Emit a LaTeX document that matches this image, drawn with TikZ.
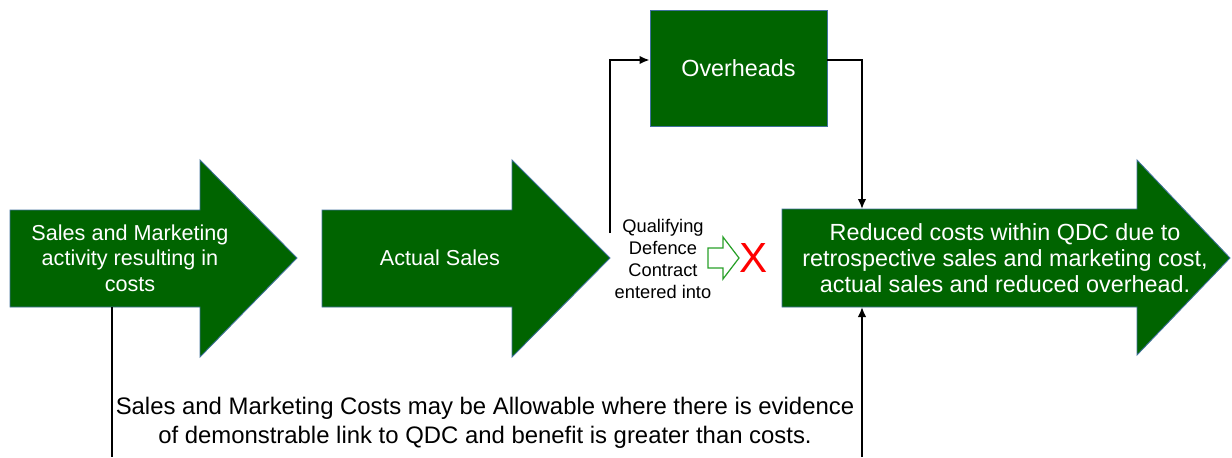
\documentclass[tikz,border=0pt]{standalone}
\usepackage{fontspec}
\setmainfont{Liberation Sans}
\usetikzlibrary{arrows.meta, positioning}
\definecolor{qdcgreen}{RGB}{0,100,0}
\definecolor{edgeblue}{RGB}{65,113,156}
\definecolor{hollowgreen}{RGB}{40,160,40}

\begin{document}
\begin{tikzpicture}[x=0.02cm, y=-0.02cm,
  bigarrow/.style={fill=qdcgreen, draw=edgeblue, line width=0.5pt},
  greentext/.style={text=white, align=center, inner sep=0pt, font=\fontsize{13.3}{14.6}\selectfont},
  smalltext/.style={greentext, font=\fontsize{12.3}{14.6}\selectfont},
  qualify/.style={align=center, inner sep=0pt, font=\fontsize{10.4}{12.4}\selectfont},
  link/.style={draw, line width=1pt, -{Latex[length=2mm,width=1.7mm]}}]
\useasboundingbox (0,0) rectangle (1232,457);
% the three green arrows
\filldraw[bigarrow] (10,210) -- (200,210) -- (200,160) -- (297,258) -- (200,357) -- (200,307) -- (10,307) -- cycle;
\filldraw[bigarrow] (322,210) -- (512,210) -- (512,160) -- (610,258) -- (512,357) -- (512,307) -- (322,307) -- cycle;
\filldraw[bigarrow] (782,209) -- (1137,209) -- (1137,160) -- (1230,258) -- (1137,355) -- (1137,307) -- (782,307) -- cycle;
\node[smalltext] (sales) at (130,258) {Sales and Marketing\\activity resulting in\\costs};
\node[smalltext] (actual) at (440,258) {Actual Sales};
\node[greentext] (reduced) at (1005,258) {Reduced costs within QDC due to\\retrospective sales and marketing cost,\\actual sales and reduced overhead.};
\node[bigarrow, greentext, minimum width=3.54cm, minimum height=2.32cm] (over) at (738.5,68) {Overheads};

% contract step
\node[qualify] (qdc) at (663,259) {Qualifying\\Defence\\Contract\\entered into};
\draw[hollowgreen, fill=white, line width=0.7pt] (708,248) -- (723,248) -- (723,237) -- (739,258) -- (723,279) -- (723,268) -- (708,268) -- cycle;
\node[text=red, inner sep=0pt, font=\fontsize{24}{24}\selectfont] (cross) at (754,258) {X};

% connectors
\coordinate (up) at (610,233);
\coordinate (a3top) at (862,209);
\coordinate (a3bot) at (862,307);
\coordinate (a1bot) at (112,307);
\coordinate (leftend) at (112,457);
\coordinate (rightend) at (862,457);
\draw[link] (up) |- ([yshift=1.6mm]over.west);
\draw[link] ([yshift=1.6mm]over.east) -| (a3top);
\draw[line width=1pt] (a1bot) -- (leftend);
\draw[link] (rightend) -- (a3bot);

\node[align=center, inner sep=0pt, font=\fontsize{13.6}{16.8}\selectfont] (note) at (485,423) {Sales and Marketing Costs may be Allowable where there is evidence\\of demonstrable link to QDC and benefit is greater than costs.};
\end{tikzpicture}
\end{document}
